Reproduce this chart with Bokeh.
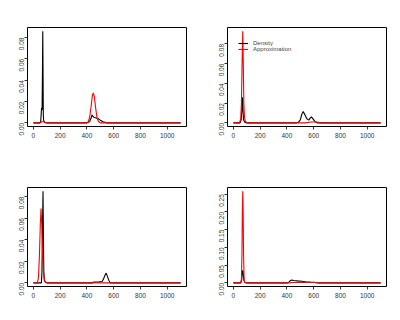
import math
from bokeh.plotting import figure
from bokeh.layouts import gridplot
from bokeh.models import Range1d, FixedTicker, Legend, LegendItem
from bokeh.embed import file_html
from bokeh.resources import INLINE

# ---- data ----
p1_density_x = [0, 50, 55, 60, 62, 65, 68, 70, 72, 74, 76, 80, 90, 100, 400, 420, 430, 438, 445, 455, 470, 487, 500, 520, 550, 1100]
p1_density_y = [0, 0, 0.002, 0.012, 0.014, 0.012, 0.05, 0.086, 0.05, 0.008, 0.003, 0.001, 0.0003, 0, 0, 0.001, 0.004, 0.0075, 0.006, 0.005, 0.0045, 0.0037, 0.0025, 0.001, 0, 0]
p1_approx_x = [0, 50, 60, 75, 90, 400, 410, 420, 430, 440, 447, 455, 465, 475, 485, 500, 1100]
p1_approx_y = [0, 0, 0.001, 0.001, 0, 0, 0.001, 0.005, 0.014, 0.025, 0.028, 0.025, 0.014, 0.005, 0.0015, 0, 0]

p2_density_x = [0, 50, 58, 63, 68, 72, 76, 85, 95, 470, 485, 500, 512, 522, 535, 550, 563, 575, 583, 595, 610, 625, 1100]
p2_density_y = [0, 0, 0.003, 0.012, 0.026, 0.012, 0.003, 0.0005, 0, 0, 0.0005, 0.003, 0.009, 0.0114, 0.008, 0.004, 0.0027, 0.005, 0.006, 0.004, 0.0012, 0, 0]
p2_approx_x = [0, 45, 55, 60, 65, 70, 74, 78, 83, 90, 100, 110, 540, 580, 620, 660, 1100]
p2_approx_y = [0, 0, 0.004, 0.02, 0.06, 0.093, 0.06, 0.02, 0.005, 0.0015, 0.0003, 0, 0, 0.0008, 0.0008, 0, 0]

p3_density_x = [0, 60, 64, 68, 72, 75, 78, 82, 90, 100, 440, 452, 490, 514, 522, 535, 544, 553, 565, 575, 1100]
p3_density_y = [0, 0, 0.01, 0.05, 0.085, 0.04, 0.01, 0.002, 0.0005, 0, 0, 0.0008, 0.0009, 0.0012, 0.003, 0.007, 0.009, 0.006, 0.002, 0, 0]
p3_approx_x = [0, 30, 38, 45, 52, 57, 62, 68, 75, 82, 90, 100, 1100]
p3_approx_y = [0, 0, 0.005, 0.025, 0.055, 0.069, 0.055, 0.03, 0.01, 0.003, 0.0008, 0, 0]

p4_density_x = [0, 55, 62, 66, 70, 74, 78, 85, 95, 405, 415, 425, 435, 450, 480, 510, 538, 560, 585, 598, 620, 640, 1100]
p4_density_y = [0, 0, 0.008, 0.025, 0.035, 0.025, 0.008, 0.001, 0, 0, 0.002, 0.006, 0.0077, 0.0068, 0.0055, 0.0045, 0.003, 0.0025, 0.0018, 0.0015, 0.0005, 0, 0]
p4_approx_x = [0, 55, 60, 64, 67, 70, 73, 76, 80, 85, 95, 420, 440, 500, 560, 600, 640, 1100]
p4_approx_y = [0, 0, 0.01, 0.08, 0.2, 0.2585, 0.2, 0.08, 0.01, 0.001, 0, 0, 0.001, 0.0012, 0.001, 0.0008, 0, 0]

x_ticks = [0, 200, 400, 600, 800, 1000]
y_ticks_small = [0.0, 0.02, 0.04, 0.06, 0.08]
y_ticks_big = [0.0, 0.05, 0.10, 0.15, 0.20, 0.25]

legend_labels = ["Density", "Approximation"]

FONT = "Liberation Sans"


def make_panel(dx, dy, ax, ay, yticks, legend=False):
    ymax = max(max(dy), max(ay))
    pad = 0.04 * ymax
    p = figure(frame_width=159, frame_height=99,
               min_border_left=27, min_border_right=14,
               min_border_top=27, min_border_bottom=34,
               x_range=Range1d(-44, 1144), y_range=Range1d(-pad, ymax + pad),
               output_backend="svg", toolbar_location=None,
               background_fill_color="white", border_fill_color="white")
    p.xgrid.visible = False
    p.ygrid.visible = False
    p.outline_line_color = "black"
    p.outline_line_width = 1
    p.outline_line_alpha = 1
    for ax_ in (p.xaxis[0], p.yaxis[0]):
        ax_.axis_line_color = None
        ax_.major_tick_in = 0
        ax_.major_tick_out = 3
        ax_.minor_tick_line_color = None
        ax_.major_tick_line_color = "#333333"
        ax_.major_label_text_font = FONT
        ax_.major_label_text_font_size = "6.5px"
        ax_.major_label_text_color = "#333333"
        ax_.major_label_standoff = 3
    p.xaxis[0].ticker = FixedTicker(ticks=x_ticks)
    p.yaxis[0].ticker = FixedTicker(ticks=yticks)
    p.yaxis[0].major_label_overrides = {t: "%.2f" % t for t in yticks}
    p.yaxis[0].major_label_orientation = math.pi / 2
    p.xaxis[0].major_label_overrides = {t: str(t) for t in x_ticks}

    r1 = p.line(dx, dy, line_color="black", line_width=1.1)
    r2 = p.line(ax, ay, line_color="red", line_width=1.1)
    if legend:
        lg = Legend(items=[LegendItem(label=legend_labels[0], renderers=[r1]),
                           LegendItem(label=legend_labels[1], renderers=[r2])],
                    location=(11, 74), margin=0, padding=0, spacing=0,
                    label_height=6, glyph_height=6, glyph_width=10,
                    label_standoff=5, label_text_font=FONT,
                    label_text_font_size="6px",
                    border_line_color=None, background_fill_alpha=0)
        p.add_layout(lg)
    return p


p1 = make_panel(p1_density_x, p1_density_y, p1_approx_x, p1_approx_y, y_ticks_small)
p2 = make_panel(p2_density_x, p2_density_y, p2_approx_x, p2_approx_y, y_ticks_small, legend=True)
p3 = make_panel(p3_density_x, p3_density_y, p3_approx_x, p3_approx_y, y_ticks_small)
p4 = make_panel(p4_density_x, p4_density_y, p4_approx_x, p4_approx_y, y_ticks_big)

layout = gridplot([[p1, p2], [p3, p4]], toolbar_location=None)

open("out.html", "w").write(file_html(layout, INLINE))
